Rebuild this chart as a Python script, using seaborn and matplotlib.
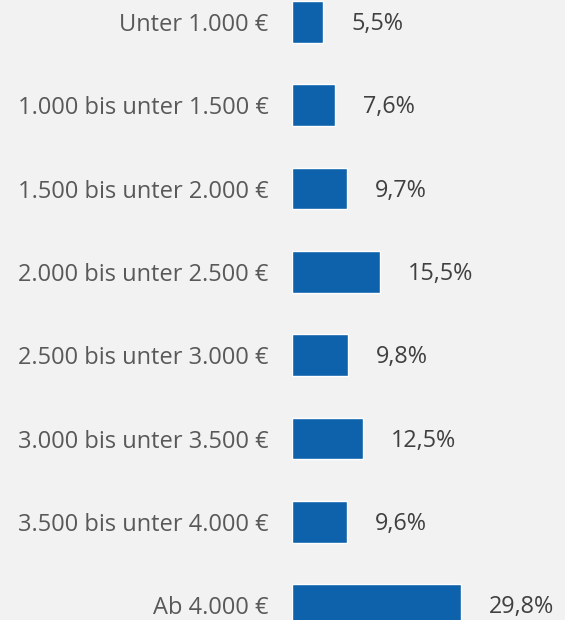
import matplotlib
matplotlib.use("Agg")
import numpy as np
import pandas as pd
import seaborn as sns
from matplotlib import pyplot as plt

categories = ["Unter 1.000 €", "1.000 bis unter 1.500 €", "1.500 bis unter 2.000 €",
              "2.000 bis unter 2.500 €", "2.500 bis unter 3.000 €", "3.000 bis unter 3.500 €",
              "3.500 bis unter 4.000 €", "Ab 4.000 €"]
shares = [5.5, 7.6, 9.7, 15.5, 9.8, 12.5, 9.6, 29.8]
share_labels = ["5,5%", "7,6%", "9,7%", "15,5%", "9,8%", "12,5%", "9,6%", "29,8%"]

df = pd.DataFrame({"Kategorie": categories, "Anteil": shares})

sns.set_style("white")
plt.rcParams['font.family'] = ['Open Sans', 'DejaVu Sans']

bg = '#f2f2f2'
fig = plt.figure(figsize=(5.65, 6.2), dpi=100, facecolor=bg)
ax = fig.add_axes([292 / 565, 0, 273 / 565, 1])
ax.set_facecolor(bg)

sns.barplot(data=df, x="Anteil", y="Kategorie", color='#0e62ab', width=0.5,
            saturation=1, ax=ax)

for i, (v, txt) in enumerate(zip(shares, share_labels)):
    ax.annotate(txt, xy=(v, i), xytext=(28, -2), textcoords='offset pixels',
                va='center', ha='left', fontsize=16.8, color='#404040')

ax.set_xlim(0, 273 / 5.68)
ax.set_ylim((620 - 22) / 83.3, -22 / 83.3)
ax.set_xlabel('')
ax.set_ylabel('')
ax.set_xticks([])
ax.tick_params(axis='y', length=0, pad=17, labelsize=17, labelcolor='#595959')
sns.despine(ax=ax, left=True, bottom=True)

plt.savefig('out.png', dpi=100, facecolor=bg)
